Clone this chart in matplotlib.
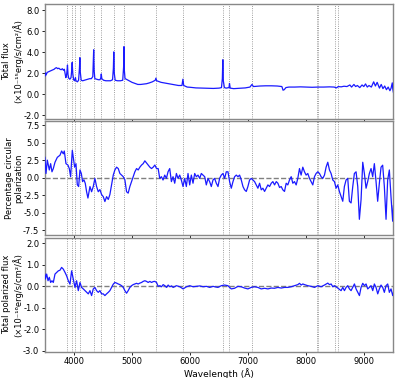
import matplotlib
matplotlib.use('Agg')
import matplotlib.pyplot as plt

# Total flux (x1e-15 erg/s/cm2/A)
flux_wave = [3500, 3510, 3520, 3540, 3560, 3580, 3600, 3620, 3640, 3660, 3680, 3700, 3720, 3740,
             3760, 3780, 3800, 3820, 3835, 3850, 3860, 3870, 3880, 3889, 3898, 3910, 3930, 3950,
             3960, 3970, 3980, 3995, 4010, 4020, 4026, 4035, 4060, 4080, 4095, 4102, 4110, 4125,
             4150, 4180, 4210, 4240, 4270, 4300, 4325, 4333, 4340, 4348, 4360, 4390, 4420, 4450,
             4463, 4471, 4480, 4510, 4550, 4590, 4630, 4665, 4679, 4686, 4695, 4710, 4750, 4800,
             4840, 4855, 4861, 4868, 4880, 4900, 4950, 5000, 5050, 5100, 5150, 5200, 5250, 5300,
             5350, 5400, 5411, 5425, 5500, 5600, 5700, 5800, 5860, 5876, 5890, 5950, 6000, 6100,
             6200, 6300, 6400, 6500, 6540, 6555, 6563, 6572, 6590, 6620, 6670, 6678, 6690, 6750,
             6850, 6950, 7030, 7065, 7090, 7200, 7300, 7400, 7500, 7580, 7600, 7620, 7650, 7700,
             7800, 7900, 8000, 8100, 8200, 8300, 8400, 8480, 8520, 8550, 8600, 8650, 8700, 8750,
             8780, 8820, 8850, 8880, 8920, 8960, 8990, 9020, 9050, 9080, 9120, 9160, 9190, 9220,
             9260, 9290, 9320, 9350, 9380, 9410, 9440, 9460, 9480, 9490, 9500]
flux_val = [1.75, 2.05, 1.85, 2.1, 2.15, 2.2, 2.25, 2.3, 2.35, 2.4, 2.5, 2.55, 2.45, 2.5,
            2.4, 2.35, 2.45, 2.3, 2.4, 1.9, 1.6, 1.7, 2.2, 2.8, 1.9, 1.55, 1.45, 1.6,
            2.2, 3.05, 2.0, 1.4, 1.3, 1.5, 1.6, 1.3, 1.2, 1.35, 2.5, 3.5, 2.1, 1.35,
            1.3, 1.35, 1.4, 1.45, 1.5, 1.5, 1.7, 3.0, 4.25, 2.3, 1.5, 1.45, 1.4, 1.4,
            1.6, 1.95, 1.5, 1.35, 1.3, 1.3, 1.3, 1.4, 2.5, 4.05, 2.0, 1.35, 1.3, 1.3,
            1.35, 2.6, 4.55, 2.3, 1.5, 1.45, 1.3, 1.15, 1.05, 0.95, 0.95, 0.98, 1.02, 1.1,
            1.2, 1.35, 1.55, 1.3, 1.15, 1.05, 0.95, 0.85, 0.85, 1.45, 0.85, 0.7, 0.68, 0.62,
            0.6, 0.58, 0.57, 0.6, 0.65, 1.5, 3.3, 1.3, 0.65, 0.6, 0.65, 1.05, 0.6, 0.55,
            0.58, 0.62, 0.7, 0.95, 0.75, 0.8, 0.82, 0.82, 0.8, 0.75, 0.4, 0.45, 0.65, 0.7,
            0.7, 0.72, 0.7, 0.68, 0.7, 0.7, 0.72, 0.7, 0.62, 0.75, 0.72, 0.78, 0.75, 0.9,
            0.7, 0.95, 0.75, 0.85, 0.65, 0.9, 0.75, 1.0, 0.7, 0.85, 0.7, 1.2, 0.8, 1.15,
            0.6, 0.95, 0.55, 0.8, 0.45, 0.7, 0.35, 0.6, 1.1, 0.5, 0.2]

# Percentage circular polarization
pol_wave = [3500, 3519, 3542, 3576, 3599, 3622, 3645, 3674, 3714, 3760, 3788, 3817, 3834, 3863,
            3897, 3920, 3943, 3972, 3989, 4012, 4035, 4058, 4081, 4104, 4127, 4149, 4172, 4195,
            4218, 4241, 4276, 4304, 4333, 4361, 4390, 4419, 4447, 4476, 4505, 4533, 4562, 4591,
            4619, 4648, 4677, 4705, 4734, 4763, 4791, 4820, 4849, 4877, 4906, 4934, 4963, 4992,
            5020, 5049, 5078, 5106, 5135, 5164, 5192, 5221, 5250, 5278, 5307, 5336, 5364, 5393,
            5422, 5450, 5477, 5506, 5534, 5563, 5592, 5620, 5649, 5678, 5706, 5735, 5764, 5792,
            5821, 5849, 5878, 5907, 5935, 5964, 5993, 6021, 6050, 6079, 6107, 6136, 6165, 6193,
            6222, 6251, 6279, 6308, 6336, 6365, 6394, 6422, 6451, 6480, 6508, 6537, 6566, 6594,
            6623, 6652, 6680, 6709, 6738, 6766, 6795, 6824, 6852, 6881, 6910, 6938, 6967, 6995,
            7024, 7053, 7081, 7110, 7139, 7167, 7196, 7225, 7253, 7282, 7311, 7339, 7368, 7397,
            7425, 7454, 7483, 7511, 7540, 7568, 7596, 7625, 7654, 7682, 7711, 7740, 7768, 7797,
            7826, 7854, 7883, 7911, 7940, 7969, 7997, 8026, 8055, 8083, 8112, 8141, 8169, 8198,
            8227, 8255, 8284, 8313, 8341, 8370, 8399, 8427, 8456, 8485, 8513, 8542, 8570, 8599,
            8628, 8656, 8685, 8714, 8742, 8771, 8800, 8828, 8857, 8886, 8914, 8943, 8972, 9000,
            9029, 9057, 9086, 9115, 9143, 9172, 9201, 9229, 9258, 9287, 9315, 9344, 9373, 9401,
            9430, 9458, 9487, 9500]
pol_val = [2.9, 0.6, 2.5, 1.1, 2.0, 0.84, 1.3, 2.2, 2.9, 3.2, 3.8, 3.4, 3.8, 2.0,
           1.8, 1.3, 0.14, 3.9, 2.9, 1.5, 2.0, -1.0, -1.26, 1.1, 0.6, -0.56, -0.3, -0.8,
           -2.0, -2.9, -1.26, -2.0, -1.26, -0.1, -1.26, -2.0, -1.7, -2.4, -2.7, -3.4, -2.7, -3.1,
           -2.4, -1.0, 0.37, 1.1, 1.5, 1.3, 0.6, 0.37, 0.14, -0.3, -2.0, -2.2, -1.26, -0.56,
           0.14, 0.84, 1.3, 1.1, 1.5, 1.8, 2.0, 2.4, 2.1, 1.8, 1.5, 1.3, 1.5, 1.8,
           1.3, 1.3, -0.1, 0.14, -0.33, 0.37, -0.1, 0.84, 1.3, -0.56, 0.14, -0.79, 0.6, -0.1,
           0.37, -0.33, -1.26, -0.1, -1.26, 0.6, -1.03, 0.37, -0.79, 0.6, 0.14, 0.37, -0.1, 0.6,
           0.37, 0.14, -1.03, -0.1, -0.56, -1.26, -0.33, -0.1, -0.79, -1.26, -0.1, 0.37, 0.6, -0.1,
           0.84, 0.84, -0.56, -1.5, -0.56, 0.14, 0.37, 0.14, 0.37, -0.33, -1.26, -1.73, -1.96, -1.26,
           -0.33, -0.1, -0.33, -0.56, -1.03, -1.5, -0.79, -1.73, -1.5, -1.96, -1.5, -1.03, -1.26, -0.79,
           -0.56, -1.03, -0.56, -0.79, -1.4, -1.26, -1.73, -1.96, -0.79, -1.03, -0.33, 0.14, -0.79, -0.56,
           -1.03, -0.1, 1.3, 0.37, 1.5, 0.84, 0.37, 0.6, -0.1, -0.56, -1.03, 0.14, 0.6, 0.84,
           0.6, 0.14, -0.1, 0.37, 1.5, 2.2, 1.1, 0.6, -0.33, -0.56, -1.5, -1.03, -1.96, -2.66,
           -3.36, -1.26, -0.33, -0.1, -3.36, -3.6, -1.26, 0.6, 0.84, -1.26, -5.93, -3.13, 2.2, 0.6,
           -1.5, -0.56, 0.6, 1.3, 0.14, 2.0, -0.56, -3.36, -0.79, 1.5, 1.78, -1.26, -5.93, -0.33,
           1.1, -2.66, -6.2, -4.0]

# Total polarized flux (x1e-16 erg/s/cm2/A)
pflux_wave = [3500, 3508, 3531, 3554, 3576, 3599, 3622, 3645, 3674, 3703, 3731, 3760, 3788, 3817,
              3846, 3874, 3903, 3932, 3960, 3989, 4018, 4046, 4075, 4104, 4132, 4161, 4190, 4218,
              4247, 4276, 4304, 4333, 4361, 4390, 4419, 4447, 4476, 4505, 4533, 4562, 4591, 4619,
              4648, 4677, 4705, 4734, 4763, 4791, 4820, 4849, 4877, 4906, 4934, 4963, 4992, 5020,
              5049, 5078, 5106, 5135, 5164, 5192, 5221, 5250, 5278, 5307, 5336, 5364, 5393, 5422,
              5450, 5479, 5508, 5536, 5565, 5594, 5622, 5651, 5680, 5708, 5765, 5823, 5880, 5937,
              5995, 6052, 6109, 6166, 6224, 6281, 6338, 6396, 6422, 6479, 6537, 6594, 6651, 6680,
              6709, 6766, 6823, 6880, 6938, 6995, 7052, 7110, 7167, 7224, 7282, 7339, 7396, 7453,
              7511, 7568, 7625, 7683, 7740, 7797, 7855, 7883, 7912, 7940, 7969, 8026, 8084, 8141,
              8198, 8256, 8313, 8370, 8399, 8428, 8456, 8485, 8542, 8599, 8628, 8657, 8685, 8714,
              8743, 8771, 8800, 8829, 8857, 8886, 8915, 8943, 8972, 9001, 9029, 9058, 9086, 9115,
              9144, 9172, 9201, 9230, 9258, 9287, 9316, 9344, 9373, 9402, 9430, 9459, 9488, 9500]
pflux_val = [0.57, 0.34, 0.57, 0.26, 0.42, 0.18, 0.26, 0.18, 0.57, 0.65, 0.72, 0.75, 0.88, 0.8,
             0.65, 0.49, 0.26, 0.1, 0.72, 0.34, -0.05, 0.26, -0.2, 0.18, -0.05, -0.12, -0.2, -0.28,
             -0.35, -0.2, -0.43, -0.12, -0.05, -0.2, -0.28, -0.2, -0.35, -0.35, -0.43, -0.35, -0.28, -0.2,
             -0.05, 0.1, 0.18, 0.15, 0.11, 0.08, 0.03, -0.05, -0.2, -0.32, -0.2, -0.05, 0.03, 0.08,
             0.11, 0.14, 0.11, 0.15, 0.18, 0.23, 0.26, 0.23, 0.18, 0.23, 0.18, 0.22, 0.23, 0.18,
             0.0, 0.03, -0.02, 0.08, 0.03, -0.05, 0.06, -0.02, 0.02, -0.05, 0.03, -0.02, -0.12, -0.02,
             0.03, -0.02, 0.0, 0.02, -0.02, 0.0, -0.05, 0.0, -0.02, -0.05, 0.03, 0.06, 0.03, -0.05,
             -0.12, -0.09, 0.0, -0.02, -0.08, -0.12, -0.05, -0.02, -0.05, -0.12, -0.09, -0.12, -0.08, -0.09,
             -0.05, -0.08, -0.05, -0.05, -0.02, 0.03, 0.08, 0.14, 0.06, 0.11, 0.08, 0.03, 0.0, -0.05,
             0.03, -0.02, 0.06, 0.15, 0.08, 0.11, -0.02, 0.03, -0.08, -0.2, -0.05, -0.2, -0.05, 0.03,
             -0.12, -0.2, -0.05, 0.11, -0.12, -0.28, -0.43, -0.05, 0.14, 0.03, 0.11, -0.12, -0.05, 0.03,
             -0.2, 0.11, -0.05, -0.35, -0.12, 0.06, -0.05, -0.28, 0.03, 0.11, -0.28, -0.12, -0.43, -0.3]

# Line positions marked with dotted lines (A)
line_wave = [3889, 3970, 4026, 4102, 4340, 4471, 4686, 4861, 5411, 5876,
             6563, 6678, 7065, 8183, 8195, 8498, 8542]

plt.rcParams['axes.unicode_minus'] = False
plt.rcParams['font.size'] = 6

fig, axes = plt.subplots(3, 1, sharex=True, figsize=(3.99, 3.78), dpi=100,
                         gridspec_kw={'hspace': 0.02})
fig.subplots_adjust(left=0.1125, right=0.986, top=0.989, bottom=0.069)

series = [(flux_wave, flux_val), (pol_wave, pol_val), (pflux_wave, pflux_val)]
# unicode superscripts keep the two label lines close together
labels = ['Total flux\n(×10⁻¹⁵erg/s/cm²/Å)',
          'Percentage circular\npolarization',
          'Total polarized flux\n(×10⁻¹⁶erg/s/cm²/Å)']
ylims = [(-2.3, 8.6), (-8.2, 8.1), (-3.05, 2.27)]
yticks = [[-2.0, 0.0, 2.0, 4.0, 6.0, 8.0],
          [-7.5, -5.0, -2.5, 0.0, 2.5, 5.0, 7.5],
          [-3.0, -2.0, -1.0, 0.0, 1.0, 2.0]]

for i, ax in enumerate(axes):
    for lw in line_wave:
        ax.axvline(lw, color='gray', linestyle=':', linewidth=0.6, zorder=1)
    if i > 0:
        ax.axhline(0, color='gray', linestyle='--', linewidth=1.0, zorder=1)
    ax.plot(series[i][0], series[i][1], color='#1a1aff', linewidth=0.9, zorder=3)
    ax.set_ylim(*ylims[i])
    ax.set_yticks(yticks[i])
    ax.set_yticklabels(['%.1f' % t for t in yticks[i]])
    ax.set_ylabel(labels[i], fontsize=6, linespacing=1.1)
    # put all y labels at the same place, just left of the tick labels
    ax.yaxis.set_label_coords(-0.062, 0.5)
    ax.tick_params(labelsize=6, length=2.5, width=0.6, pad=1.5)
    for sp in ax.spines.values():
        sp.set_color('#888888')
        sp.set_linewidth(1.0)

axes[-1].set_xlim(3500, 9500)
axes[-1].set_xticks([4000, 5000, 6000, 7000, 8000, 9000])
axes[-1].set_xlabel('Wavelength (Å)', fontsize=6.5, labelpad=1)

plt.savefig('out.png', dpi=100)
